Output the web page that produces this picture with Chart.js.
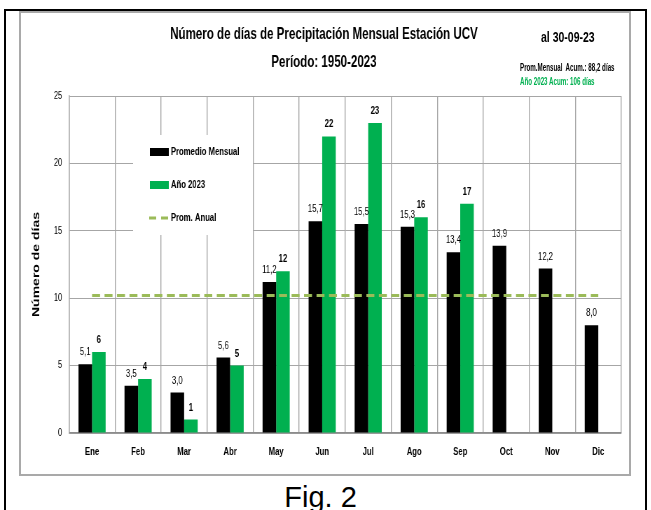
<!DOCTYPE html>
<html>
<head>
<meta charset="utf-8">
<script src="https://cdn.jsdelivr.net/npm/chart.js@4.4.0/dist/chart.umd.min.js"></script>
<style>
  html, body { margin: 0; padding: 0; background: #fff; }
  body { width: 651px; height: 510px; position: relative; overflow: hidden; font-family: 'Liberation Sans', Arial, sans-serif; }
  #frame { position: absolute; left: 4px; top: 9px; width: 643px; height: 520px; box-sizing: border-box; border: 2px solid #000; border-bottom: none; }
  #box { position: absolute; left: 19px; top: 11px; width: 612px; height: 465px; box-sizing: border-box; border: 2px solid #a9a9a9; background: #fff; }
  #wrap { position: absolute; left: 21px; top: 13px; width: 608px; height: 461px; }
  .note { position: absolute; font-weight: bold; white-space: pre; transform-origin: left center; }
  #fig { position: absolute; left: 0; width: 641px; top: 483px; line-height: 29px; text-align: center; font-size: 29px; }
</style>
</head>
<body>
<div id="frame"></div>
<div id="box"></div>
<!-- the original texts are narrow, so the canvas is drawn wider and squeezed -->
<div id="wrap"><canvas id="grafico" width="868" height="461" style="width:608px; height:461px;"></canvas></div>
<div class="note" style="left:541px; top:28px; font-size:15px; line-height:18px; transform:scaleX(0.7);">al 30-09-23</div>
<div class="note" style="left:520px; top:61px; font-size:10px; line-height:13px; transform:scaleX(0.62);">Prom.Mensual  Acum.: 88,2 días</div>
<div class="note" style="left:520px; top:75px; font-size:10px; line-height:13px; transform:scaleX(0.62); color:#00B050;">Año 2023 Acum: 106 días</div>
<div id="fig">Fig. 2</div>

<script>
// datos
const meses = ['Ene', 'Feb', 'Mar', 'Abr', 'May', 'Jun', 'Jul', 'Ago', 'Sep', 'Oct', 'Nov', 'Dic'];
const promedioMensual = [5.1, 3.5, 3.0, 5.6, 11.2, 15.7, 15.5, 15.3, 13.4, 13.9, 12.2, 8.0];
const anio2023 = [6, 4, 1, 5, 12, 22, 23, 16, 17, null, null, null];
const promAnual = [10.2, 10.2, 10.2, 10.2, 10.2, 10.2, 10.2, 10.2, 10.2, 10.2, 10.2, 10.2];
const yTicks = [0, 5, 10, 15, 20, 25];

const fam = "'Liberation Sans', Arial, sans-serif";

//labels above each bar, black ones with comma decimal, green ones bold
const barLabels = {
  id: 'barLabels',
  afterDatasetsDraw(chart) {
    const ctx = chart.ctx;
    ctx.save();
    ctx.textAlign = 'center';
    ctx.textBaseline = 'middle';
    ctx.fillStyle = '#000';
    [0, 1].forEach((di) => {
      const meta = chart.getDatasetMeta(di);
      const values = chart.data.datasets[di].data;
      ctx.font = (di === 0 ? 'normal' : 'bold') + ' 11px ' + fam;
      meta.data.forEach((bar, i) => {
        const v = values[i];
        if (v === null || v === undefined) return;
        const txt = di === 0 ? v.toFixed(1).replace('.', ',') : String(v);
        ctx.fillText(txt, bar.x, bar.y - 12);
      });
    });
    ctx.restore();
  }
};

//the legend sits inside the plot on a white box
const insideLegend = {
  id: 'insideLegend',
  afterDraw(chart, args, opts) {
    const ctx = chart.ctx;
    const ds = chart.data.datasets;
    ctx.save();
    ctx.fillStyle = '#fff';
    ctx.fillRect(opts.x, opts.y, opts.w, opts.h);
    ctx.font = 'bold 11px ' + fam;
    ctx.textBaseline = 'middle';
    ds.forEach((d, i) => {
      const cy = opts.y + 17 + i * 33;
      if (d.type === 'line') {
        ctx.strokeStyle = d.borderColor;
        ctx.lineWidth = d.borderWidth;
        ctx.setLineDash([10, 7]);
        ctx.beginPath();
        ctx.moveTo(opts.x + 23, cy);
        ctx.lineTo(opts.x + 50, cy);
        ctx.stroke();
        ctx.setLineDash([]);
      } else {
        ctx.fillStyle = d.backgroundColor;
        ctx.fillRect(opts.x + 24, cy - 4, 27, 8);
      }
      ctx.fillStyle = '#000';
      ctx.fillText(d.label, opts.x + 54, cy);
    });
    ctx.restore();
  }
};

new Chart(document.getElementById('grafico'), {
  type: 'bar',
  data: {
    labels: meses,
    datasets: [
      {
        label: 'Promedio Mensual',
        data: promedioMensual,
        backgroundColor: '#000000',
        categoryPercentage: 0.59,
        barPercentage: 1.0,
        order: 2
      },
      {
        label: 'Año 2023',
        data: anio2023,
        backgroundColor: '#00B050',
        categoryPercentage: 0.59,
        barPercentage: 1.0,
        order: 2
      },
      {
        type: 'line',
        label: 'Prom. Anual',
        data: promAnual,
        borderColor: '#9BBB59',
        borderWidth: 3,
        borderDash: [11.4, 6.4],
        pointRadius: 0,
        fill: false,
        order: 1
      }
    ]
  },
  options: {
    responsive: false,
    animation: false,
    layout: {
      padding: { left: 8, right: 11, top: 0, bottom: 0 }
    },
    plugins: {
      legend: { display: false },
      tooltip: { enabled: false },
      title: {
        display: true,
        text: 'Número de días de Precipitación Mensual Estación UCV',
        color: '#000',
        font: { family: fam, size: 16.5, weight: 'bold' },
        padding: { top: 12, bottom: 8 }
      },
      subtitle: {
        display: true,
        text: 'Período: 1950-2023',
        color: '#000',
        font: { family: fam, size: 16.5, weight: 'bold' },
        padding: { top: 0, bottom: 23.4 }
      },
      insideLegend: { x: 160, y: 122, w: 171, h: 100 }
    },
    scales: {
      x: {
        grid: { color: '#a6a6a6', lineWidth: 1.4, drawTicks: false, offset: true },
        border: { color: '#8c8c8c', width: 1.5 },
        ticks: { color: '#000', font: { family: fam, size: 11, weight: 'bold' }, padding: 12.4 },
        afterFit: (s) => { s.height = 41; }
      },
      y: {
        min: yTicks[0],
        max: yTicks[yTicks.length - 1],
        afterBuildTicks: (s) => { s.ticks = yTicks.map(v => ({ value: v })); },
        grid: { color: '#a6a6a6', drawTicks: false },
        border: { color: '#a6a6a6', width: 1.4 },
        ticks: { color: '#000', font: { family: fam, size: 10.5 }, padding: 10 },
        title: {
          display: true,
          text: 'Número de días',
          color: '#000',
          font: { family: fam, size: 14, weight: 'bold' },
          padding: { top: 6, bottom: 0 }
        },
        afterFit: (s) => { s.width = 60.6; }
      }
    }
  },
  plugins: [barLabels, insideLegend]
});
</script>
</body>
</html>
